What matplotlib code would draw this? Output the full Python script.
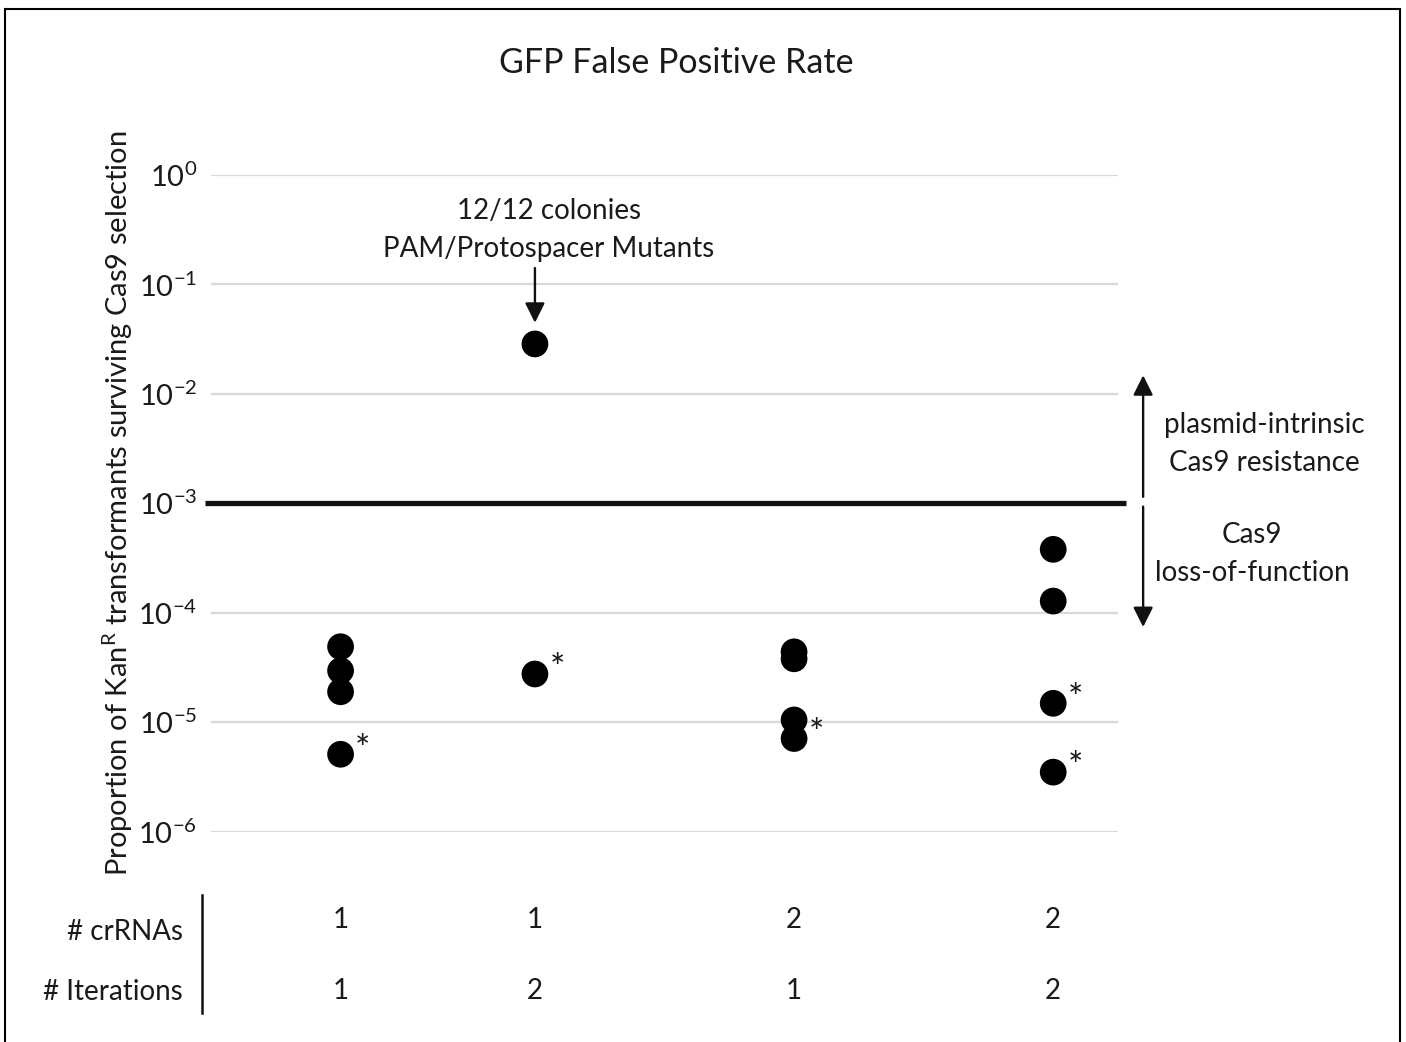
import math
import matplotlib
matplotlib.use("Agg")
import matplotlib.pyplot as plt
from matplotlib.patches import Rectangle

plt.rcParams['font.family'] = ['Lato', 'DejaVu Sans']
plt.rcParams['mathtext.fontset'] = 'custom'
plt.rcParams['mathtext.rm'] = 'Lato'
plt.rcParams['mathtext.default'] = 'regular'

# Data
group_x = [0.5, 1.25, 2.25, 3.25]
crRNAs = ["1", "1", "2", "2"]
iterations = ["1", "2", "1", "2"]
values = [
    [4.9e-5, 2.96e-5, 1.9e-5, 5.1e-6],
    [2.86e-2, 2.76e-5],
    [4.4e-5, 3.8e-5, 1.05e-5, 7.1e-6],
    [3.8e-4, 1.28e-4, 1.49e-5, 3.5e-6],
]
starred = [
    [False, False, False, True],
    [False, True],
    [False, False, False, True],
    [False, False, True, True],
]
threshold = 1e-3
yticks = [1e0, 1e-1, 1e-2, 1e-3, 1e-4, 1e-5, 1e-6]

W, H = 1406, 1042
TXT = '#1a1a1a'
FS = 20

fig = plt.figure(figsize=(W / 100, H / 100), dpi=100)
ax = fig.add_axes([211 / W, 1 - 831.7 / H, 907 / W, (831.7 - 175) / H])

ax.set_yscale('log')
ax.set_ylim(1e-6, 1e0)
ax.set_xlim(0, 3.5)
ax.set_yticks(yticks)
ax.set_yticklabels([r'$10^{%d}$' % int(round(math.log10(t))) for t in yticks])
ax.minorticks_off()
ax.tick_params(axis='y', length=0, pad=10, labelsize=21, colors=TXT)
ax.set_xticks([])
for s in ax.spines.values():
    s.set_visible(False)
ax.grid(axis='y', color='#d9d9d9', lw=1.6)
ax.set_axisbelow(True)

# threshold line
ax.plot([-0.023, 3.531], [threshold, threshold], color='#111111', lw=3.8,
        clip_on=False, solid_capstyle='butt')

# points
for x, ys, st in zip(group_x, values, starred):
    ax.scatter([x] * len(ys), ys, s=370, color='black', edgecolors='none',
               zorder=3, clip_on=False)
    for y, flag in zip(ys, st):
        if flag:
            ax.annotate('*', (x, y), xytext=(16, 3), textcoords='offset points',
                        ha='center', va='center', fontsize=26, color=TXT)

arrow_kw = dict(arrowstyle='-|>', color='#111111', lw=1.7,
                mutation_scale=30, shrinkA=0, shrinkB=0)

# annotation on the high point
ax.annotate('', xy=(group_x[1], 10 ** -1.35), xytext=(group_x[1], 10 ** -0.85),
            arrowprops=arrow_kw)
fig.text(549 / W, 1 - 230 / H, '12/12 colonies\nPAM/Protospacer Mutants',
         ha='center', va='center', fontsize=FS, color=TXT, linespacing=1.55)

# side arrows
ax.annotate('', xy=(3.597, 10 ** -1.83), xytext=(3.597, 10 ** -2.94),
            arrowprops=arrow_kw, annotation_clip=False)
ax.annotate('', xy=(3.597, 10 ** -4.13), xytext=(3.597, 10 ** -3.03),
            arrowprops=arrow_kw, annotation_clip=False)
fig.text(1264 / W, 1 - 444 / H, 'plasmid-intrinsic\nCas9 resistance',
         ha='center', va='center', fontsize=FS, color=TXT, linespacing=1.55)
fig.text(1252 / W, 1 - 554 / H, 'Cas9\nloss-of-function',
         ha='center', va='center', fontsize=FS, color=TXT, linespacing=1.55)

# title and y label
fig.text(676 / W, 1 - 63 / H, 'GFP False Positive Rate', ha='center', va='center',
         fontsize=24.5, color=TXT)
fig.text(118 / W, 1 - 503 / H,
         r'Proportion of Kan$^{R}$ transformants surviving Cas9 selection',
         rotation=90, ha='center', va='center', fontsize=21, color=TXT)

# table below the axis
tr = ax.get_xaxis_transform()
for x, c, it in zip(group_x, crRNAs, iterations):
    ax.text(x, -0.1345, c, transform=tr, ha='center', va='center', fontsize=FS,
            color=TXT)
    ax.text(x, -0.2426, it, transform=tr, ha='center', va='center', fontsize=FS,
            color=TXT)
ax.text(-0.031, -0.1527, '# crRNAs', transform=ax.transAxes, ha='right',
        va='center', fontsize=FS, color=TXT)
ax.text(-0.031, -0.2440, '# Iterations', transform=ax.transAxes, ha='right',
        va='center', fontsize=FS, color=TXT)
ax.plot([-0.0099, -0.0099], [-0.0963, -0.276], transform=ax.transAxes,
        color='#111111', lw=1.8, clip_on=False)

# frame around the figure
fig.patches.append(Rectangle((5 / W, -0.01), (1400 - 5) / W, 1 - 9 / H + 0.01,
                             transform=fig.transFigure, fill=False,
                             lw=1.5, ec='black'))

fig.savefig('out.png', dpi=100)
